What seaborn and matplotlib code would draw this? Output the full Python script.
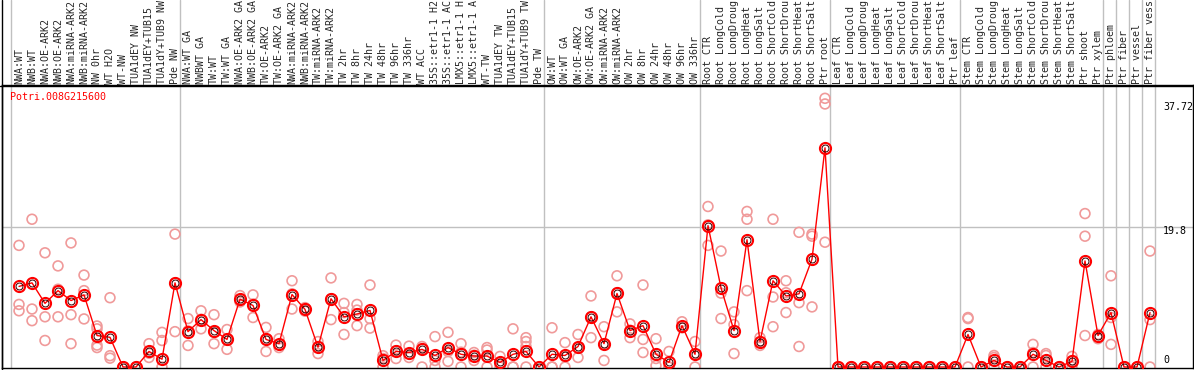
import numpy as np
import pandas as pd
import matplotlib
matplotlib.use("Agg")
import matplotlib.pyplot as plt
from matplotlib.lines import Line2D
import seaborn as sns

# sample names (cut to 14 characters like the original)
labels = [
    "NWA:WT", "NWB:WT", "NWA:OE-ARK2", "NWB:OE-ARK2", "NWA:miRNA-ARK2", "NWB:miRNA-ARK2",
    "NW 0hr", "WT H2O", "WT-NW", "TUA1dEY NW", "TUA1dEY+TUB15", "TUA1dY+TUB9 NW", "Pde NW",
    "NWA:WT GA", "NWBWT GA", "TW:WT", "TW:WT GA", "NWA:OE-ARK2 GA", "NWB:OE-ARK2 GA",
    "TW:OE-ARK2", "TW:OE-ARK2 GA", "NWA:miRNA-ARK2", "NWB:miRNA-ARK2", "TW:miRNA-ARK2",
    "TW:miRNA-ARK2", "TW 2hr", "TW 8hr", "TW 24hr", "TW 48hr", "TW 96hr", "TW 336hr",
    "WT ACC", "35S::etr1-1 H2", "35S::etr1-1 AC", "LMX5::etr1-1 H", "LMX5::etr1-1 A",
    "WT-TW", "TUA1dEY TW", "TUA1dEY+TUB15", "TUA1dY+TUB9 TW", "Pde TW",
    "OW:WT", "OW:WT GA", "OW:OE-ARK2", "OW:OE-ARK2 GA", "OW:miRNA-ARK2", "OW:miRNA-ARK2",
    "OW 2hr", "OW 8hr", "OW 24hr", "OW 48hr", "OW 96hr", "OW 336hr",
    "Root CTR", "Root LongCold", "Root LongDroug", "Root LongHeat", "Root LongSalt",
    "Root ShortCold", "Root ShortDrou", "Root ShortHeat", "Root ShortSalt", "Ptr root",
    "Leaf CTR", "Leaf LongCold", "Leaf LongDroug", "Leaf LongHeat", "Leaf LongSalt",
    "Leaf ShortCold", "Leaf ShortDrou", "Leaf ShortHeat", "Leaf ShortSalt", "Ptr leaf",
    "Stem CTR", "Stem LongCold", "Stem LongDroug", "Stem LongHeat", "Stem LongSalt",
    "Stem ShortCold", "Stem ShortDrou", "Stem ShortHeat", "Stem ShortSalt", "Ptr shoot",
    "Ptr xylem", "Ptr phloem", "Ptr fiber", "Ptr vessel", "Ptr fiber vess",
]

# mean expression per sample
means = [
    11.4, 11.9, 9.0, 10.8, 9.4, 10.2, 4.45, 4.2, 0, 0, 2.2, 1.1, 11.9,
    5.0, 6.7, 5.15, 3.9, 9.6, 8.7, 3.9, 3.3, 10.25, 8.15, 2.8, 9.65, 7.1, 7.5, 8.0,
    0.93, 2.2, 2.05, 2.5, 1.63, 2.75, 1.8, 1.55, 1.55, 0.65, 1.8, 2.2, 0,
    1.8, 1.63, 2.9, 7.1, 3.3, 10.4, 5.15, 5.85, 1.8, 0.65, 5.85, 1.8,
    20.0, 11.2, 5.15, 18.0, 3.6, 12.2, 10.05, 10.35, 15.25, 31.0,
    0, 0, 0, 0, 0, 0, 0, 0, 0, 0,
    4.6, 0, 0.93, 0, 0, 1.8, 0.93, 0, 0.8, 15.0, 4.45,
    7.7, 0, 0, 7.7,
]

# individual replicates per sample
replicates = [
    [17.2, 8.85, 7.95], [20.9, 8.2, 6.55], [16.15, 7.1, 3.75], [14.3, 11.0, 7.1],
    [17.55, 7.4, 3.3], [13.0, 10.8, 6.8], [5.8, 5.4, 3.1, 2.75], [9.8, 1.6, 1.25],
    [0, 0, 0], [0, 0, 0], [3.3, 1.95, 1.35], [4.9, 3.75, 0], [18.8, 11.9, 5.0],
    [6.85, 5.1, 3.05], [7.95, 6.75, 5.4], [7.4, 4.9, 3.3], [5.3, 3.9, 2.5],
    [10.1, 9.5, 9.2], [10.2, 8.9, 7.0], [5.6, 3.9, 2.2], [4.0, 3.15, 2.75],
    [12.2, 10.35, 8.2], [8.4, 8.1, 7.9], [3.6, 2.9, 1.9], [12.6, 9.65, 6.7],
    [9.0, 7.7, 4.6], [8.85, 8.05, 5.85], [11.6, 6.85, 5.5], [1.6, 1.2, 0],
    [3.1, 2.3, 1.2], [2.95, 1.85, 1.35], [2.9, 2.6, 0], [4.3, 0.93, 0],
    [4.9, 2.2, 0.8], [3.3, 2.1, 0], [2.05, 1.67, 0.93], [2.75, 2.4, 0],
    [1.5, 0.45, 0], [5.4, 0, 0], [4.15, 3.6, 2.9, 0], [0, 0, 0],
    [5.55, 0, 0], [3.45, 1.45, 0], [4.6, 2.75, 1.35], [10.05, 7.1, 4.15],
    [5.7, 3.27, 0.93], [12.9, 10.5, 7.8], [6.1, 5.2, 4.15], [11.6, 3.9, 2.05],
    [4.0, 1.2, 0.2], [2.2, 0, 0], [6.4, 5.6, 5.55], [3.6, 1.8, 0],
    [22.7, 20.1, 17.2], [16.4, 10.45, 6.85], [7.8, 6.0, 1.9], [22.0, 20.9, 10.8],
    [4.15, 3.6, 3.05], [20.9, 9.9, 5.7], [12.2, 10.5, 7.7], [19.05, 9.1, 2.9],
    [18.8, 18.5, 8.5], [38.0, 37.2, 17.65],
    [0, 0, 0], [0, 0, 0], [0, 0, 0], [0, 0, 0], [0, 0, 0],
    [0, 0, 0], [0, 0, 0], [0, 0, 0], [0, 0, 0], [0, 0, 0],
    [7.0, 6.85, 0], [0, 0, 0], [1.63, 1.35, 0], [0, 0, 0], [0, 0, 0],
    [3.2, 2.05, 0], [1.9, 1.63, 0], [0, 0, 0], [1.5, 0.9, 0],
    [21.7, 18.5, 4.45], [4.6, 4.15, 4.0],
    [12.9, 7.0, 3.2], [0, 0, 0], [0, 0, 0], [16.4, 6.7, 0],
]

# first sample of each group (group separators)
group_starts = [0, 13, 41, 53, 63, 73, 84, 85, 86, 87, 88]
gene = "Potri.008G215600"
axis_ticks = ["37.72", "19.8", "0"]

W, H = 1194, 370
GRID = "#c0c0c0"
MONO = "DejaVu Sans Mono"

sns.set_style("white")
plt.rcParams["font.family"] = [MONO]

mean_df = pd.DataFrame({"x": np.arange(len(means)), "value": means})
rep_df = pd.DataFrame(
    [(i, v) for i, reps in enumerate(replicates) for v in reps], columns=["x", "value"]
)

fig = plt.figure(figsize=(W / 100, H / 100), dpi=100)
ax = fig.add_axes([2 / W, 2 / H, 1191 / W, 283 / H])

# pixel -> data mapping: sample i sits at 19 + 13*i px
ax.set_xlim((2 - 19) / 13, (1193 - 19) / 13)
ax.set_ylim((368 - 369) / 7.121, (369 - 85) / 7.121)

for k in group_starts:
    ax.axvline(k - 0.6, 0, 1 + 85 / 283, color=GRID, lw=1, clip_on=False, zorder=0)
ax.axhline(19.8, color=GRID, lw=1, zorder=0)

sns.scatterplot(data=rep_df, x="x", y="value", ax=ax, marker="o", s=50,
                facecolor="none", edgecolor="#f09a9a", linewidth=1.2, zorder=2,
                legend=False)
sns.lineplot(data=mean_df, x="x", y="value", ax=ax, color="#ff0000", lw=1,
             marker="o", markersize=8, markerfacecolor="none",
             markeredgecolor="#ff0000", markeredgewidth=1.5, zorder=3)
ax.plot(mean_df["x"], mean_df["value"], ls="none", marker="o", markersize=5,
        markerfacecolor="none", markeredgecolor="#300000", markeredgewidth=0.7,
        zorder=4)

ax.set_xlabel("")
ax.set_ylabel("")
ax.set_yticks([])
ax.xaxis.tick_top()
ax.set_xticks(np.arange(len(labels)))
ax.set_xticklabels(labels, rotation=90, fontsize=7.2, family=MONO)
ax.tick_params(axis="x", length=0, pad=1)

for sp in ax.spines.values():
    sp.set_color("black")
    sp.set_linewidth(1)

# value labels on the right
label_pos = {"37.72": 36.8, "19.8": 19.25, "0": 0.98}
for t in axis_ticks:
    ax.text((1163 - 19) / 13, label_pos[t], t, fontsize=7.2, family=MONO,
            va="center", ha="left", color="black")

fig.text(10 / W, 1 - 97 / H, gene, color="#ff0000", fontsize=7.2, family=MONO,
         va="center", ha="left")
fig.add_artist(Line2D([1.5 / W, 1.5 / W], [0, 1], color="black", lw=1))
fig.add_artist(Line2D([0, 1], [1 - 85.5 / H, 1 - 85.5 / H], color="black", lw=1))

fig.savefig("out.png", dpi=100)
